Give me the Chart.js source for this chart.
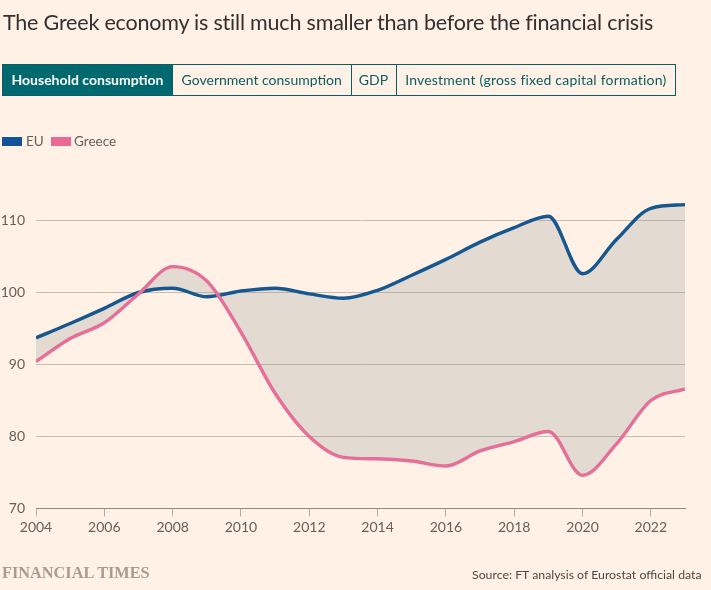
<!DOCTYPE html>
<html>
<head>
<meta charset="utf-8">
<title>The Greek economy</title>
<script src="https://cdn.jsdelivr.net/npm/chart.js@4"></script>
<style>
    html, body { margin: 0; padding: 0; background: #fff1e5; }
    body { width: 711px; height: 590px; position: relative; overflow: hidden; font-family: Lato, sans-serif; color: #33302e; }
    canvas { position: absolute; left: 0; top: 0; }
    .title { position: absolute; left: 3px; top: 7px; font-size: 21.5px; letter-spacing: -0.2px; line-height: 30px; white-space: nowrap; }
    .tabs { position: absolute; left: 2px; top: 64px; height: 32px; width: 674px; box-sizing: border-box; border: 1px solid #0d5c63; display: flex; }
    .tab { box-sizing: border-box; height: 30px; line-height: 30px; font-size: 14px; color: #0d5c63; text-align: center; border-left: 1px solid #0d5c63; white-space: nowrap; }
    .tab.active { background: #00686f; color: #fff; font-weight: bold; border-left: 0; }
    .legend { position: absolute; left: 0; top: 133px; font-size: 13.5px; color: #66605c; }
    .legend i { position: absolute; top: 4px; width: 20px; height: 9px; }
    .legend span { position: absolute; top: 0; line-height: 17px; white-space: nowrap; }
    .ft { position: absolute; left: 2px; top: 563px; font-family: "Liberation Serif", serif; font-weight: bold; font-size: 16.3px; line-height: 20px; color: #a89c90; white-space: nowrap; }
    .source { position: absolute; left: 472px; top: 567px; font-size: 12.3px; line-height: 16px; color: #4d4845; white-space: nowrap; }
</style>
</head>
<body>
<canvas id="chart" width="711" height="590"></canvas>
<div class="title">The Greek economy is still much smaller than before the financial crisis</div>
<div class="tabs">
    <div class="tab active" style="width:169px">Household consumption</div>
    <div class="tab" style="width:178.5px">Government consumption</div>
    <div class="tab" style="width:45px">GDP</div>
    <div class="tab" style="width:279.5px;letter-spacing:0.2px">Investment (gross fixed capital formation)</div>
</div>
<div class="legend">
    <i style="left:2px;background:#0f5499"></i><span style="left:26px">EU</span>
    <i style="left:51px;background:#eb6a95"></i><span style="left:74px">Greece</span>
</div>
<div class="ft">FINANCIAL TIMES</div>
<div class="source">Source: FT analysis of Eurostat official data</div>

<script>
const years = [2004, 2005, 2006, 2007, 2008, 2009, 2010, 2011, 2012, 2013, 2014, 2015, 2016, 2017, 2018, 2019, 2020, 2021, 2022, 2023];
const euValues = [93.7, 95.7, 97.8, 100.0, 100.6, 99.4, 100.2, 100.6, 99.8, 99.2, 100.3, 102.4, 104.6, 107.0, 109.0, 110.6, 102.6, 107.4, 111.7, 112.2];
const greeceValues = [90.4, 93.6, 95.8, 99.8, 103.6, 101.6, 94.5, 86.0, 80.0, 77.1, 76.9, 76.6, 75.9, 78.0, 79.3, 80.7, 74.6, 79.0, 85.0, 86.6];
const yTicks = [70, 80, 90, 100, 110];
const xTicks = [2004, 2006, 2008, 2010, 2012, 2014, 2016, 2018, 2020, 2022];

function points(values) {
    return years.map((y, i) => ({x: y, y: values[i]}));
}

new Chart(document.querySelector("#chart"), {
    type: 'line',
    data: {
        datasets: [
            {
                label: "Greece",
                data: points(greeceValues),
                borderColor: "#e56f98",
                borderWidth: 3.4,
                pointRadius: 0,
                cubicInterpolationMode: 'monotone',
                fill: false
            },
            {
                label: "EU",
                data: points(euValues),
                borderColor: "#17578f",
                borderWidth: 3.4,
                pointRadius: 0,
                cubicInterpolationMode: 'monotone',
                fill: {target: 0, above: "rgba(143,153,157,0.25)", below: "rgba(143,153,157,0.25)"}
            }
        ]
    },
    options: {
        responsive: false,
        animation: false,
        layout: {padding: {left: 0, right: 26, top: 184.5, bottom: 0}},
        plugins: {legend: {display: false}, tooltip: {enabled: false}},
        scales: {
            x: {
                type: 'linear',
                min: 2004,
                max: 2023,
                afterBuildTicks: s => { s.ticks = xTicks.map(v => ({value: v})); },
                afterFit: s => { s.height = 81.5; },
                border: {color: "#93877d", width: 1},
                grid: {drawOnChartArea: false, drawTicks: true, tickLength: 8, tickColor: "#b8aca1"},
                ticks: {
                    color: "#66605c",
                    font: {family: "Lato", size: 14},
                    padding: 3,
                    maxRotation: 0,
                    autoSkip: false,
                    callback: v => String(v)
                }
            },
            y: {
                min: 70,
                max: 115,
                afterBuildTicks: s => { s.ticks = yTicks.map(v => ({value: v})); },
                afterFit: s => { s.width = 36; },
                border: {display: false},
                grid: {color: "#c9bdb2", drawTicks: false, lineWidth: 1},
                ticks: {
                    color: "#66605c",
                    font: {family: "Lato", size: 14},
                    padding: 11
                }
            }
        }
    }
});
</script>
</body>
</html>
